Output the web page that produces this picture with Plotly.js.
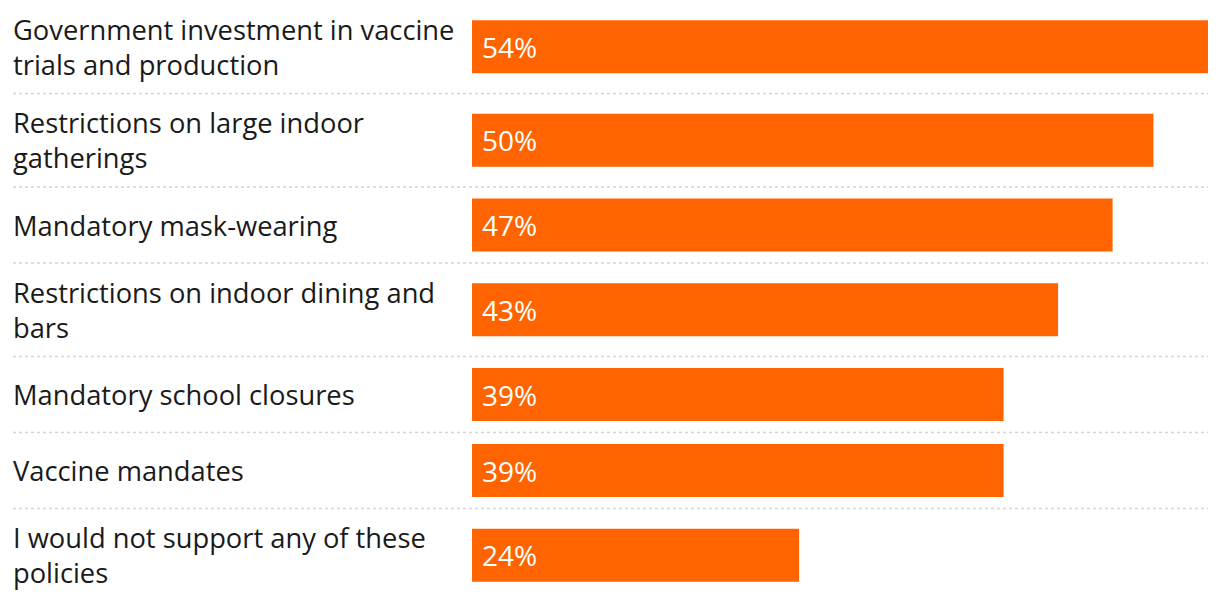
<!DOCTYPE html>
<html>
<head>
<meta charset="utf-8">
<script src="https://cdn.plot.ly/plotly-3.0.1.min.js"></script>
<style>html,body{margin:0;padding:0;background:#fff;}#chart{width:1220px;height:602px;}</style>
</head>
<body>
<div id="chart"></div>
<script>
const categories = [
  "Government investment in vaccine<br>trials and production",
  "Restrictions on large indoor<br>gatherings",
  "Mandatory mask-wearing",
  "Restrictions on indoor dining and<br>bars",
  "Mandatory school closures",
  "Vaccine mandates",
  "I would not support any of these<br>policies"
];
const values = [54, 50, 47, 43, 39, 39, 24];
const valueLabels = values.map(v => v + "%");

// row layout derived from number of label lines
const W = 1220, H = 602;
const rowH = categories.map(c => c.includes("<br>") ? 93.5 : 76);
const centers = [];
const bounds = [];
let acc = 0;
rowH.forEach((h, i) => { centers.push(acc + h / 2); acc += h; if (i < rowH.length - 1) bounds.push(acc); });

const font = "'Open Sans', Lato, sans-serif";

const trace = {
  type: "bar",
  orientation: "h",
  x: values,
  y: centers,
  width: 53,
  marker: { color: "#FF6400" },
  hoverinfo: "none"
};

const annotations = [];
categories.forEach((c, i) => {
  annotations.push({
    xref: "paper", yref: "y", x: 11 / W, y: centers[i],
    xanchor: "left", yanchor: "middle", align: "left",
    text: c, showarrow: false,
    font: { family: font, size: 27.3, color: "#1a1a1a" }
  });
  annotations.push({
    xref: "x", yref: "y", x: 0, y: centers[i],
    xanchor: "left", yanchor: "middle", xshift: 8,
    text: valueLabels[i], showarrow: false,
    font: { family: font, size: 28, color: "#ffffff" }
  });
});

const shapes = bounds.map(b => ({
  type: "line", xref: "paper", yref: "y",
  x0: 13 / W, x1: 1208 / W, y0: b, y1: b,
  line: { color: "#d4d4d4", width: 1.5, dash: "dot" }
}));

const layout = {
  width: W, height: H,
  margin: { l: 0, r: 0, t: 0, b: 0 },
  paper_bgcolor: "#fff", plot_bgcolor: "#fff",
  showlegend: false,
  xaxis: { domain: [472 / W, 1208 / W], range: [0, Math.max(...values)], visible: false, fixedrange: true },
  yaxis: { range: [H, 0], visible: false, fixedrange: true },
  annotations: annotations,
  shapes: shapes
};

Plotly.newPlot("chart", [trace], layout, { displayModeBar: false, staticPlot: true });
</script>
</body>
</html>
